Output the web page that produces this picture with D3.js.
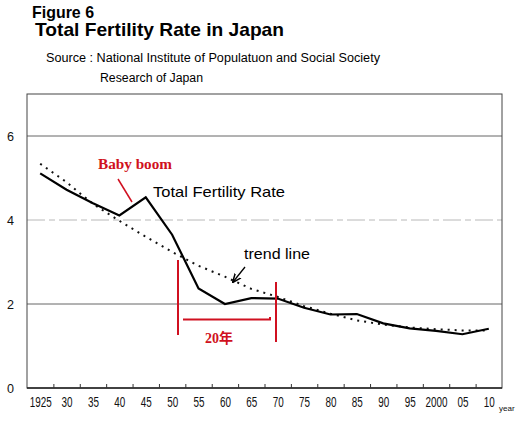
<!DOCTYPE html>
<html>
<head>
<meta charset="utf-8">
<script src="https://cdn.jsdelivr.net/npm/d3@7"></script>
<style>
  body { margin: 0; background: #fff; }
  svg { display: block; }
</style>
</head>
<body>
<svg id="chart" width="526" height="426"></svg>
<script>
// dados
var anos = [1925, 1930, 1935, 1940, 1945, 1950, 1955, 1960, 1965, 1970, 1975, 1980, 1985, 1990, 1995, 2000, 2005, 2010];
var rotulosAnos = ["1925", "30", "35", "40", "45", "50", "55", "60", "65", "70", "75", "80", "85", "90", "95", "2000", "05", "10"];
var taxaFecundidade = [5.11, 4.72, 4.40, 4.11, 4.54, 3.65, 2.37, 2.00, 2.14, 2.13, 1.91, 1.75, 1.76, 1.54, 1.42, 1.36, 1.28, 1.41];
var linhaTendencia = [5.34, 4.90, 4.38, 3.98, 3.60, 3.24, 2.91, 2.65, 2.36, 2.17, 1.95, 1.77, 1.61, 1.51, 1.44, 1.40, 1.37, 1.37];
var ticksY = [0, 2, 4, 6];

var svg = d3.select("#chart");
var fonte = "Liberation Sans, Arial, sans-serif";

var escalas = {
  xScale: d3.scaleLinear().domain([1922.5, 2012.5]).range([27, 502]),
  yScale: d3.scaleLinear().domain([0, 7]).range([388, 94])
};
var x = escalas.xScale, y = escalas.yScale;

// titulos
svg.append("text").attr("x", 32).attr("y", 17.5)
  .attr("font-family", fonte).attr("font-weight", "bold")
  .attr("font-size", 16.5).attr("textLength", 62).attr("lengthAdjust", "spacingAndGlyphs")
  .text("Figure 6");
svg.append("text").attr("x", 35).attr("y", 36)
  .attr("font-family", fonte).attr("font-weight", "bold")
  .attr("font-size", 19).attr("textLength", 249).attr("lengthAdjust", "spacingAndGlyphs")
  .text("Total Fertility Rate in Japan");
svg.append("text").attr("x", 46).attr("y", 62)
  .attr("font-family", fonte)
  .attr("font-size", 12).attr("textLength", 334).attr("lengthAdjust", "spacingAndGlyphs")
  .text("Source : National Institute of Populatuon and Social Society");
svg.append("text").attr("x", 100).attr("y", 82)
  .attr("font-family", fonte)
  .attr("font-size", 12).attr("textLength", 103).attr("lengthAdjust", "spacingAndGlyphs")
  .text("Research of Japan");

// linhas de grade
svg.append("g").selectAll("line")
  .data(ticksY.filter(function(d) { return d > 0; }))
  .enter()
  .append("line")
  .attr("x1", x.range()[0]).attr("x2", x.range()[1])
  .attr("y1", function(d) { return y(d); })
  .attr("y2", function(d) { return y(d); })
  .attr("stroke", function(d) { return d === 4 ? "#b8b8b8" : "#666"; })
  .attr("stroke-dasharray", function(d) { return d === 4 ? "18,4,6,4" : null; })
  .attr("stroke-width", 1);

// moldura
svg.append("rect")
  .attr("x", x.range()[0]).attr("y", y.range()[1])
  .attr("width", x.range()[1] - x.range()[0])
  .attr("height", y.range()[0] - y.range()[1])
  .attr("fill", "none").attr("stroke", "#444").attr("stroke-width", 1);
svg.append("line")
  .attr("x1", x.range()[0]).attr("x2", x.range()[1])
  .attr("y1", y(0)).attr("y2", y(0))
  .attr("stroke", "#222").attr("stroke-width", 1.5);

// eixo x: marcas entre os anos
var meios = anos.slice(0, -1).map(function(a) { return a + 2.5; });
svg.append("g")
  .attr("transform", "translate(0," + y(0) + ")")
  .call(d3.axisBottom(x).tickValues(meios).tickSize(-4).tickFormat(""))
  .call(function(g) { g.select(".domain").remove(); g.selectAll("line").attr("stroke", "#333"); });

svg.append("g")
  .attr("transform", "translate(0," + y(0) + ")")
  .call(d3.axisBottom(x).tickValues(anos).tickSize(0).tickPadding(9)
    .tickFormat(function(d, i) { return rotulosAnos[i]; }))
  .call(function(g) {
    g.select(".domain").remove();
    g.selectAll("text").attr("font-size", 14).attr("fill", "#111")
      .attr("font-family", fonte)
      .attr("textLength", function(d, i) { return rotulosAnos[i].length * 5.5; })
      .attr("lengthAdjust", "spacingAndGlyphs");
  });

svg.append("text").attr("x", 499).attr("y", 411)
  .attr("font-family", fonte).attr("font-size", 8).attr("fill", "#111")
  .text("year");

// eixo y
svg.append("g")
  .attr("transform", "translate(" + x.range()[0] + ",0)")
  .call(d3.axisLeft(y).tickValues(ticksY).tickSize(0).tickPadding(13).tickFormat(d3.format("d")))
  .call(function(g) {
    g.select(".domain").remove();
    g.selectAll("text").attr("font-size", 13.5).attr("fill", "#111")
      .attr("font-family", fonte)
      .attr("textLength", 7).attr("lengthAdjust", "spacingAndGlyphs");
  });

// linha de tendencia (pontilhada)
var linha = d3.line()
  .x(function(d, i) { return x(anos[i]); })
  .y(function(d) { return y(d); });

svg.append("path")
  .datum(linhaTendencia)
  .attr("d", linha)
  .attr("fill", "none").attr("stroke", "#111")
  .attr("stroke-width", 2).attr("stroke-dasharray", "2,5");

// taxa de fecundidade total
svg.append("path")
  .datum(taxaFecundidade)
  .attr("d", linha)
  .attr("fill", "none").attr("stroke", "#000")
  .attr("stroke-width", 2.2).attr("stroke-linejoin", "miter");

// anotacoes
var vermelho = "#d01020";
svg.append("text").attr("x", 98).attr("y", 169)
  .attr("font-family", "Liberation Serif, DejaVu Serif, serif").attr("font-weight", "bold")
  .attr("font-size", 14).attr("fill", vermelho)
  .attr("textLength", 74).attr("lengthAdjust", "spacingAndGlyphs")
  .text("Baby boom");
svg.append("line")
  .attr("x1", 118).attr("y1", 179).attr("x2", 132).attr("y2", 202)
  .attr("stroke", vermelho).attr("stroke-width", 1.5);

svg.append("text").attr("x", 153).attr("y", 197)
  .attr("font-family", fonte)
  .attr("font-size", 14.5).attr("fill", "#000")
  .attr("textLength", 132).attr("lengthAdjust", "spacingAndGlyphs")
  .text("Total Fertility Rate");

svg.append("text").attr("x", 244).attr("y", 259)
  .attr("font-family", fonte)
  .attr("font-size", 14.5).attr("fill", "#000")
  .attr("textLength", 66).attr("lengthAdjust", "spacingAndGlyphs")
  .text("trend line");

svg.append("defs").append("marker")
  .attr("id", "seta").attr("viewBox", "0 0 10 10")
  .attr("refX", 9).attr("refY", 5)
  .attr("markerWidth", 7).attr("markerHeight", 7)
  .attr("orient", "auto")
  .append("path").attr("d", "M0,1 L10,5 L0,9").attr("fill", "none")
  .attr("stroke", "#000").attr("stroke-width", 1.6);
svg.append("line")
  .attr("x1", 245).attr("y1", 267).attr("x2", 233).attr("y2", 282)
  .attr("stroke", "#000").attr("stroke-width", 1.3)
  .attr("marker-end", "url(#seta)");

// intervalo de 20 anos
svg.append("line")
  .attr("x1", 178).attr("y1", 260).attr("x2", 178).attr("y2", 335)
  .attr("stroke", vermelho).attr("stroke-width", 2);
svg.append("line")
  .attr("x1", 276).attr("y1", 282).attr("x2", 276).attr("y2", 342)
  .attr("stroke", vermelho).attr("stroke-width", 2);
svg.append("path")
  .attr("d", "M183,319.5 L270,319.5 L270,317")
  .attr("fill", "none").attr("stroke", vermelho).attr("stroke-width", 2);
svg.append("text").attr("x", 205).attr("y", 343)
  .attr("font-family", "Liberation Serif, Noto Sans CJK JP, serif").attr("font-weight", "bold")
  .attr("font-size", 14).attr("fill", vermelho)
  .text("20年");
</script>
</body>
</html>
